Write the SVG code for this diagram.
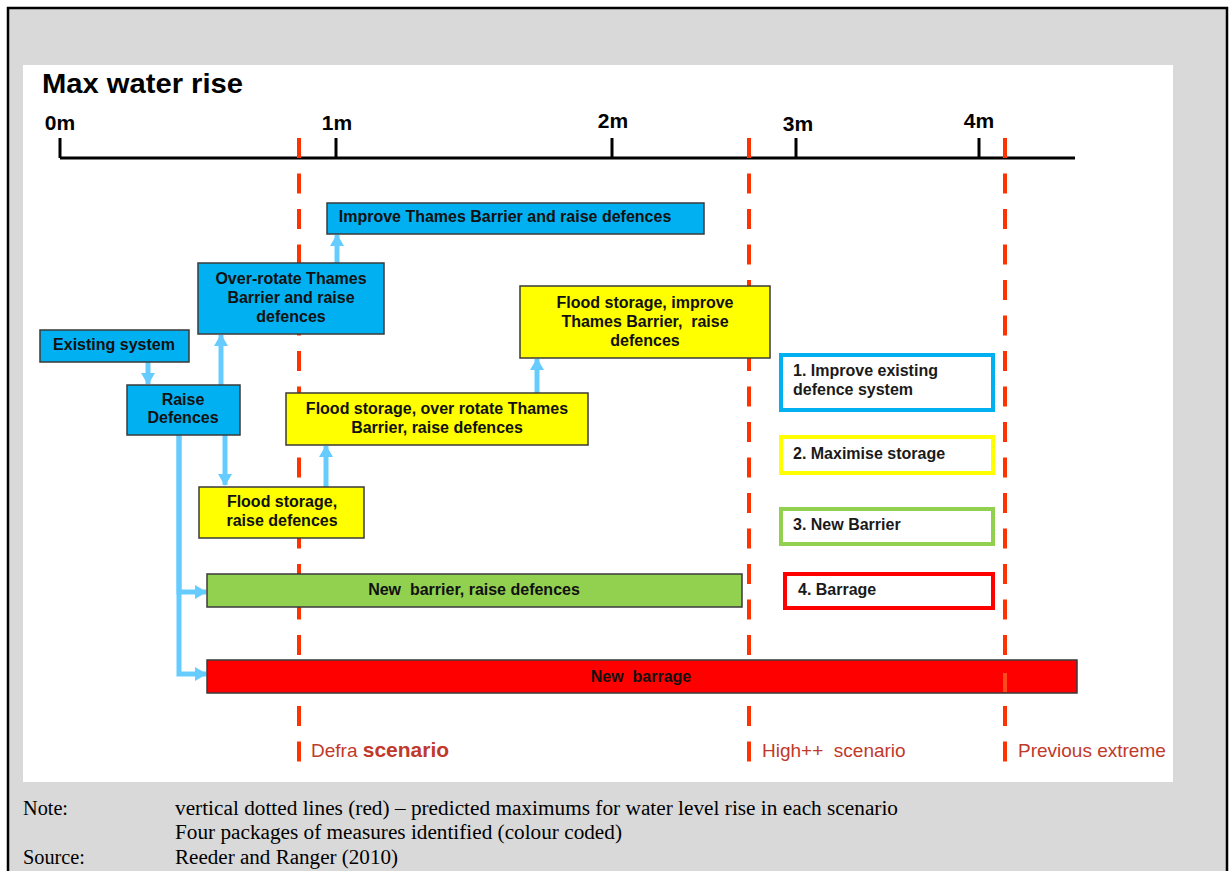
<svg xmlns="http://www.w3.org/2000/svg" width="1230" height="871" viewBox="0 0 1230 871">
<defs>
<style>
.nb{stroke:#3a3a3a;stroke-width:1.5}
.blue{fill:#00b0f0}
.yel{fill:#ffff00}
.grn{fill:#92d050}
.red{fill:#ff0000}
.nt{font-family:"Liberation Sans",Arial,sans-serif;font-weight:bold;font-size:16px;fill:#111;text-anchor:middle}
.lt{font-family:"Liberation Sans",Arial,sans-serif;font-weight:bold;font-size:16px;fill:#1a1a1a}
.ax{font-family:"Liberation Sans",Arial,sans-serif;font-weight:bold;font-size:21px;fill:#000;text-anchor:middle}
.sc{font-family:"Liberation Sans",Arial,sans-serif;font-size:19px;fill:#c0392b}
.nn{font-family:"Liberation Serif","Times New Roman",serif;font-size:20px;fill:#000}
.dash{stroke:#ff3300;stroke-width:4;stroke-dasharray:20 15.5;fill:none}
.conn{stroke:#66ccff;stroke-width:5;fill:none}
.lg{fill:none;stroke-width:4}
</style>
<marker id="ah" viewBox="0 0 12 14" refX="11" refY="7" markerWidth="12" markerHeight="14" markerUnits="userSpaceOnUse" orient="auto">
<path d="M0,0 L12,7 L0,14 z" fill="#66ccff"/>
</marker>
</defs>
<rect x="8" y="8" width="1219" height="900" fill="#d9d9d9" stroke="#000" stroke-width="2.5"/>
<rect x="23" y="65" width="1150" height="717" fill="#fff"/>
<text x="42" y="93" font-family="'Liberation Sans',Arial,sans-serif" font-weight="bold" font-size="27" textLength="201" lengthAdjust="spacingAndGlyphs">Max water rise</text>
<g id="axis">
<line x1="60" y1="158" x2="1075" y2="158" stroke="#000" stroke-width="3"/>
<g stroke="#000" stroke-width="3">
<line x1="60" y1="138" x2="60" y2="158"/>
<line x1="336" y1="138" x2="336" y2="158"/>
<line x1="612" y1="138" x2="612" y2="158"/>
<line x1="796" y1="138" x2="796" y2="158"/>
<line x1="979" y1="138" x2="979" y2="158"/>
</g>
<text class="ax" x="60" y="130">0m</text>
<text class="ax" x="337" y="130">1m</text>
<text class="ax" x="613" y="128">2m</text>
<text class="ax" x="798" y="131">3m</text>
<text class="ax" x="979" y="128">4m</text>
</g>
<g id="scenario-lines">
<line class="dash" x1="299" y1="138" x2="299" y2="762"/>
<line class="dash" x1="749" y1="138" x2="749" y2="762"/>
<line class="dash" x1="1005" y1="138" x2="1005" y2="762"/>
</g>
<g id="connectors">
<line class="conn" x1="148" y1="362" x2="148" y2="384" marker-end="url(#ah)"/>
<line class="conn" x1="221" y1="385" x2="221" y2="335" marker-end="url(#ah)"/>
<line class="conn" x1="337" y1="263" x2="337" y2="235" marker-end="url(#ah)"/>
<line class="conn" x1="225" y1="435" x2="225" y2="485" marker-end="url(#ah)"/>
<line class="conn" x1="326" y1="487" x2="326" y2="446" marker-end="url(#ah)"/>
<line class="conn" x1="537" y1="393" x2="537" y2="359" marker-end="url(#ah)"/>
<path class="conn" d="M179,435 V592 H206" marker-end="url(#ah)"/>
<path class="conn" d="M179,435 V674 H206" marker-end="url(#ah)"/>
</g>
<g id="n-improve-barrier">
<rect class="nb blue" x="327" y="203" width="377" height="31"/>
<text class="nt" x="505" y="222">Improve Thames Barrier and raise defences</text>
</g>
<g id="n-over-rotate">
<rect class="nb blue" x="198" y="263" width="186" height="71"/>
<text class="nt" x="291" y="284">Over-rotate Thames</text>
<text class="nt" x="291" y="303">Barrier and raise</text>
<text class="nt" x="291" y="322">defences</text>
</g>
<g id="n-existing">
<rect class="nb blue" x="40" y="330" width="149" height="32"/>
<text class="nt" x="114" y="350">Existing system</text>
</g>
<g id="n-raise">
<rect class="nb blue" x="127" y="385" width="113" height="50"/>
<text class="nt" x="183" y="405">Raise</text>
<text class="nt" x="183" y="423">Defences</text>
</g>
<g id="n-flood-improve">
<rect class="nb yel" x="520" y="286" width="250" height="72"/>
<text class="nt" x="645" y="308">Flood storage, improve</text>
<text class="nt" x="645" y="327" xml:space="preserve">Thames Barrier,  raise</text>
<text class="nt" x="645" y="346">defences</text>
</g>
<g id="n-flood-over-rotate">
<rect class="nb yel" x="286" y="393" width="302" height="52"/>
<text class="nt" x="437" y="414">Flood storage, over rotate Thames</text>
<text class="nt" x="437" y="433">Barrier, raise defences</text>
</g>
<g id="n-flood-raise">
<rect class="nb yel" x="199" y="487" width="165" height="51"/>
<text class="nt" x="282" y="507">Flood storage,</text>
<text class="nt" x="282" y="526">raise defences</text>
</g>
<g id="n-new-barrier">
<rect class="nb grn" x="207" y="574" width="535" height="33"/>
<text class="nt" x="474" y="595" xml:space="preserve">New  barrier, raise defences</text>
</g>
<g id="n-new-barrage">
<rect class="nb red" x="207" y="660" width="870" height="33"/>
<text class="nt" x="641" y="682" xml:space="preserve">New  barrage</text>
</g>
<line x1="1005" y1="673" x2="1005" y2="692" stroke="#ff4a1c" stroke-width="4"/>
<g id="legend-1">
<rect class="lg" stroke="#00b0f0" x="781" y="355" width="212" height="55"/>
<text class="lt" x="793" y="376">1. Improve existing</text>
<text class="lt" x="793" y="395">defence system</text>
</g>
<g id="legend-2">
<rect class="lg" stroke="#ffff00" x="781" y="437" width="212" height="36"/>
<text class="lt" x="793" y="459">2. Maximise storage</text>
</g>
<g id="legend-3">
<rect class="lg" stroke="#92d050" x="781" y="509" width="212" height="35"/>
<text class="lt" x="793" y="530">3. New Barrier</text>
</g>
<g id="legend-4">
<rect class="lg" stroke="#ff0000" x="785" y="574" width="208" height="34"/>
<text class="lt" x="798" y="595">4. Barrage</text>
</g>
<g id="scenario-labels">
<text class="sc" x="311" y="757">Defra <tspan font-weight="bold" font-size="21">scenario</tspan></text>
<text class="sc" x="762" y="757" xml:space="preserve">High++  scenario</text>
<text class="sc" x="1018" y="757">Previous extreme</text>
</g>
<g id="notes">
<text class="nn" x="23" y="815" textLength="45" lengthAdjust="spacingAndGlyphs">Note:</text>
<text class="nn" x="175" y="815" textLength="723" lengthAdjust="spacingAndGlyphs">vertical dotted lines (red) – predicted maximums for water level rise in each scenario</text>
<text class="nn" x="175" y="839" textLength="447" lengthAdjust="spacingAndGlyphs">Four packages of measures identified (colour coded)</text>
<text class="nn" x="23" y="864" textLength="62" lengthAdjust="spacingAndGlyphs">Source:</text>
<text class="nn" x="175" y="864" textLength="223" lengthAdjust="spacingAndGlyphs">Reeder and Ranger (2010)</text>
</g>
</svg>
